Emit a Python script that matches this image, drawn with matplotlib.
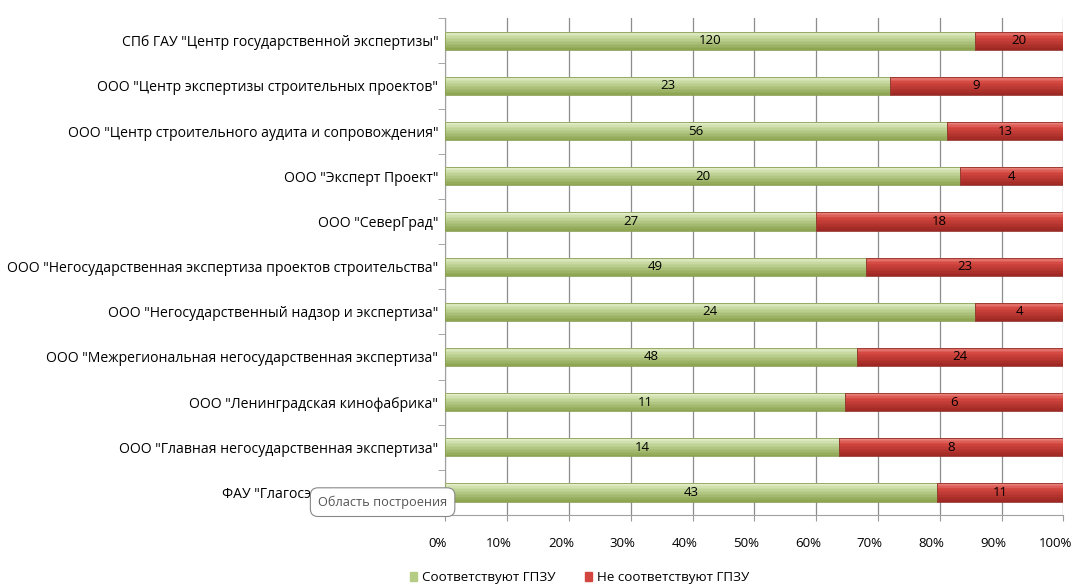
import numpy as np
import matplotlib.pyplot as plt
import matplotlib.transforms as mtransforms
from matplotlib.colors import to_rgb

categories = [
    'СПб ГАУ "Центр государственной экспертизы"',
    'ООО "Центр экспертизы строительных проектов"',
    'ООО "Центр строительного аудита и сопровождения"',
    'ООО "Эксперт Проект"',
    'ООО "СеверГрад"',
    'ООО "Негосударственная экспертиза проектов строительства"',
    'ООО "Негосударственный надзор и экспертиза"',
    'ООО "Межрегиональная негосударственная экспертиза"',
    'ООО "Ленинградская кинофабрика"',
    'ООО "Главная негосударственная экспертиза"',
    'ФАУ "Глагосэкспертиза России"',
]
match = [120, 23, 56, 20, 27, 49, 24, 48, 11, 14, 43]
no_match = [20, 9, 13, 4, 18, 23, 4, 24, 6, 8, 11]
series_names = ['Соответствуют ГПЗУ', 'Не соответствуют ГПЗУ']
x_ticks = list(range(0, 101, 10))

plt.rcParams['font.family'] = ['Open Sans', 'DejaVu Sans']


def shade(top, mid, bottom, k, n):
    # colour of slice k out of n, from top of the cylinder to its bottom
    t = k / (n - 1)
    top, mid, bottom = map(np.array, map(to_rgb, (top, mid, bottom)))
    if t < 0.3:
        return tuple(top + (mid - top) * (t / 0.3))
    return tuple(mid + (bottom - mid) * ((t - 0.3) / 0.7))


def main():
    fig = plt.figure(figsize=(10.73, 5.88), dpi=100)
    ax = fig.add_axes([0.415, 0.124, 0.576, 0.845])

    m = np.array(match, dtype=float)
    n = np.array(no_match, dtype=float)
    total = m + n
    pm = m / total * 100
    pn = n / total * 100
    y = np.arange(len(categories))

    h = 0.4
    nslices = 12
    for k in range(nslices):
        off = -h / 2 + (k + 0.5) * h / nslices
        ax.barh(y + off, pm, height=h / nslices * 1.05, linewidth=0, zorder=3,
                color=shade('#e3edca', '#c5d89d', '#8ea552', k, nslices))
        ax.barh(y + off, pn, left=pm, height=h / nslices * 1.05, linewidth=0, zorder=3,
                color=shade('#e8807a', '#d3463f', '#9e2823', k, nslices))
    ax.barh(y, pm, height=h, fill=False, edgecolor='#8a9f55', linewidth=0.6, zorder=4)
    ax.barh(y, pn, left=pm, height=h, fill=False, edgecolor='#93302b', linewidth=0.6, zorder=4)

    for yi, a, b, va, vb in zip(y, pm, pn, match, no_match):
        ax.text(a / 2, yi, str(va), ha='center', va='center', fontsize=9.5, zorder=5)
        ax.text(a + b / 2, yi, str(vb), ha='center', va='center', fontsize=9.5, zorder=5)

    ax.set_xlim(0, 100)
    ax.set_ylim(len(categories) - 0.5, -0.5)
    ax.set_xticks(x_ticks)
    ax.set_xticklabels([f'{t}%' for t in x_ticks], fontsize=9.5)
    ax.set_yticks(y)
    ax.set_yticklabels(categories, fontsize=10.1)
    ax.set_yticks(np.arange(len(categories) + 1) - 0.5, minor=True)
    ax.tick_params(axis='y', which='major', length=0, pad=5)
    ax.tick_params(axis='y', which='minor', length=5, color='#999999')
    ax.tick_params(axis='x', length=4, color='#999999', pad=12)
    # the floor of the 3D chart puts the percent labels a little to the left
    shift = mtransforms.ScaledTranslation(-8 / 100, 0, fig.dpi_scale_trans)
    for lab in ax.get_xticklabels():
        lab.set_transform(lab.get_transform() + shift)
    ax.grid(axis='x', color='#8c8c8c', linewidth=0.9, zorder=0)
    for s in ['top', 'right']:
        ax.spines[s].set_visible(False)
    ax.spines['left'].set_color('#a0a0a0')
    ax.spines['bottom'].set_color('#a0a0a0')

    handles = [plt.Rectangle((0, 0), 1, 1, color='#b5cc85'),
               plt.Rectangle((0, 0), 1, 1, color='#d2463f')]
    fig.legend(handles, series_names, loc='lower center', bbox_to_anchor=(0.540, -0.014),
               ncol=2, frameon=False, fontsize=9.6, handlelength=0.55, handleheight=0.55,
               columnspacing=2.2, handletextpad=0.35)

    # tooltip box from the screenshot
    fig.text(0.2964, 0.146, 'Область построения', fontsize=9.2, color='#555555',
             ha='left', va='center', zorder=10,
             bbox=dict(boxstyle='round,pad=0.6', fc='white', ec='#888888', lw=0.8))

    fig.savefig('out.png', dpi=100)


if __name__ == '__main__':
    main()
